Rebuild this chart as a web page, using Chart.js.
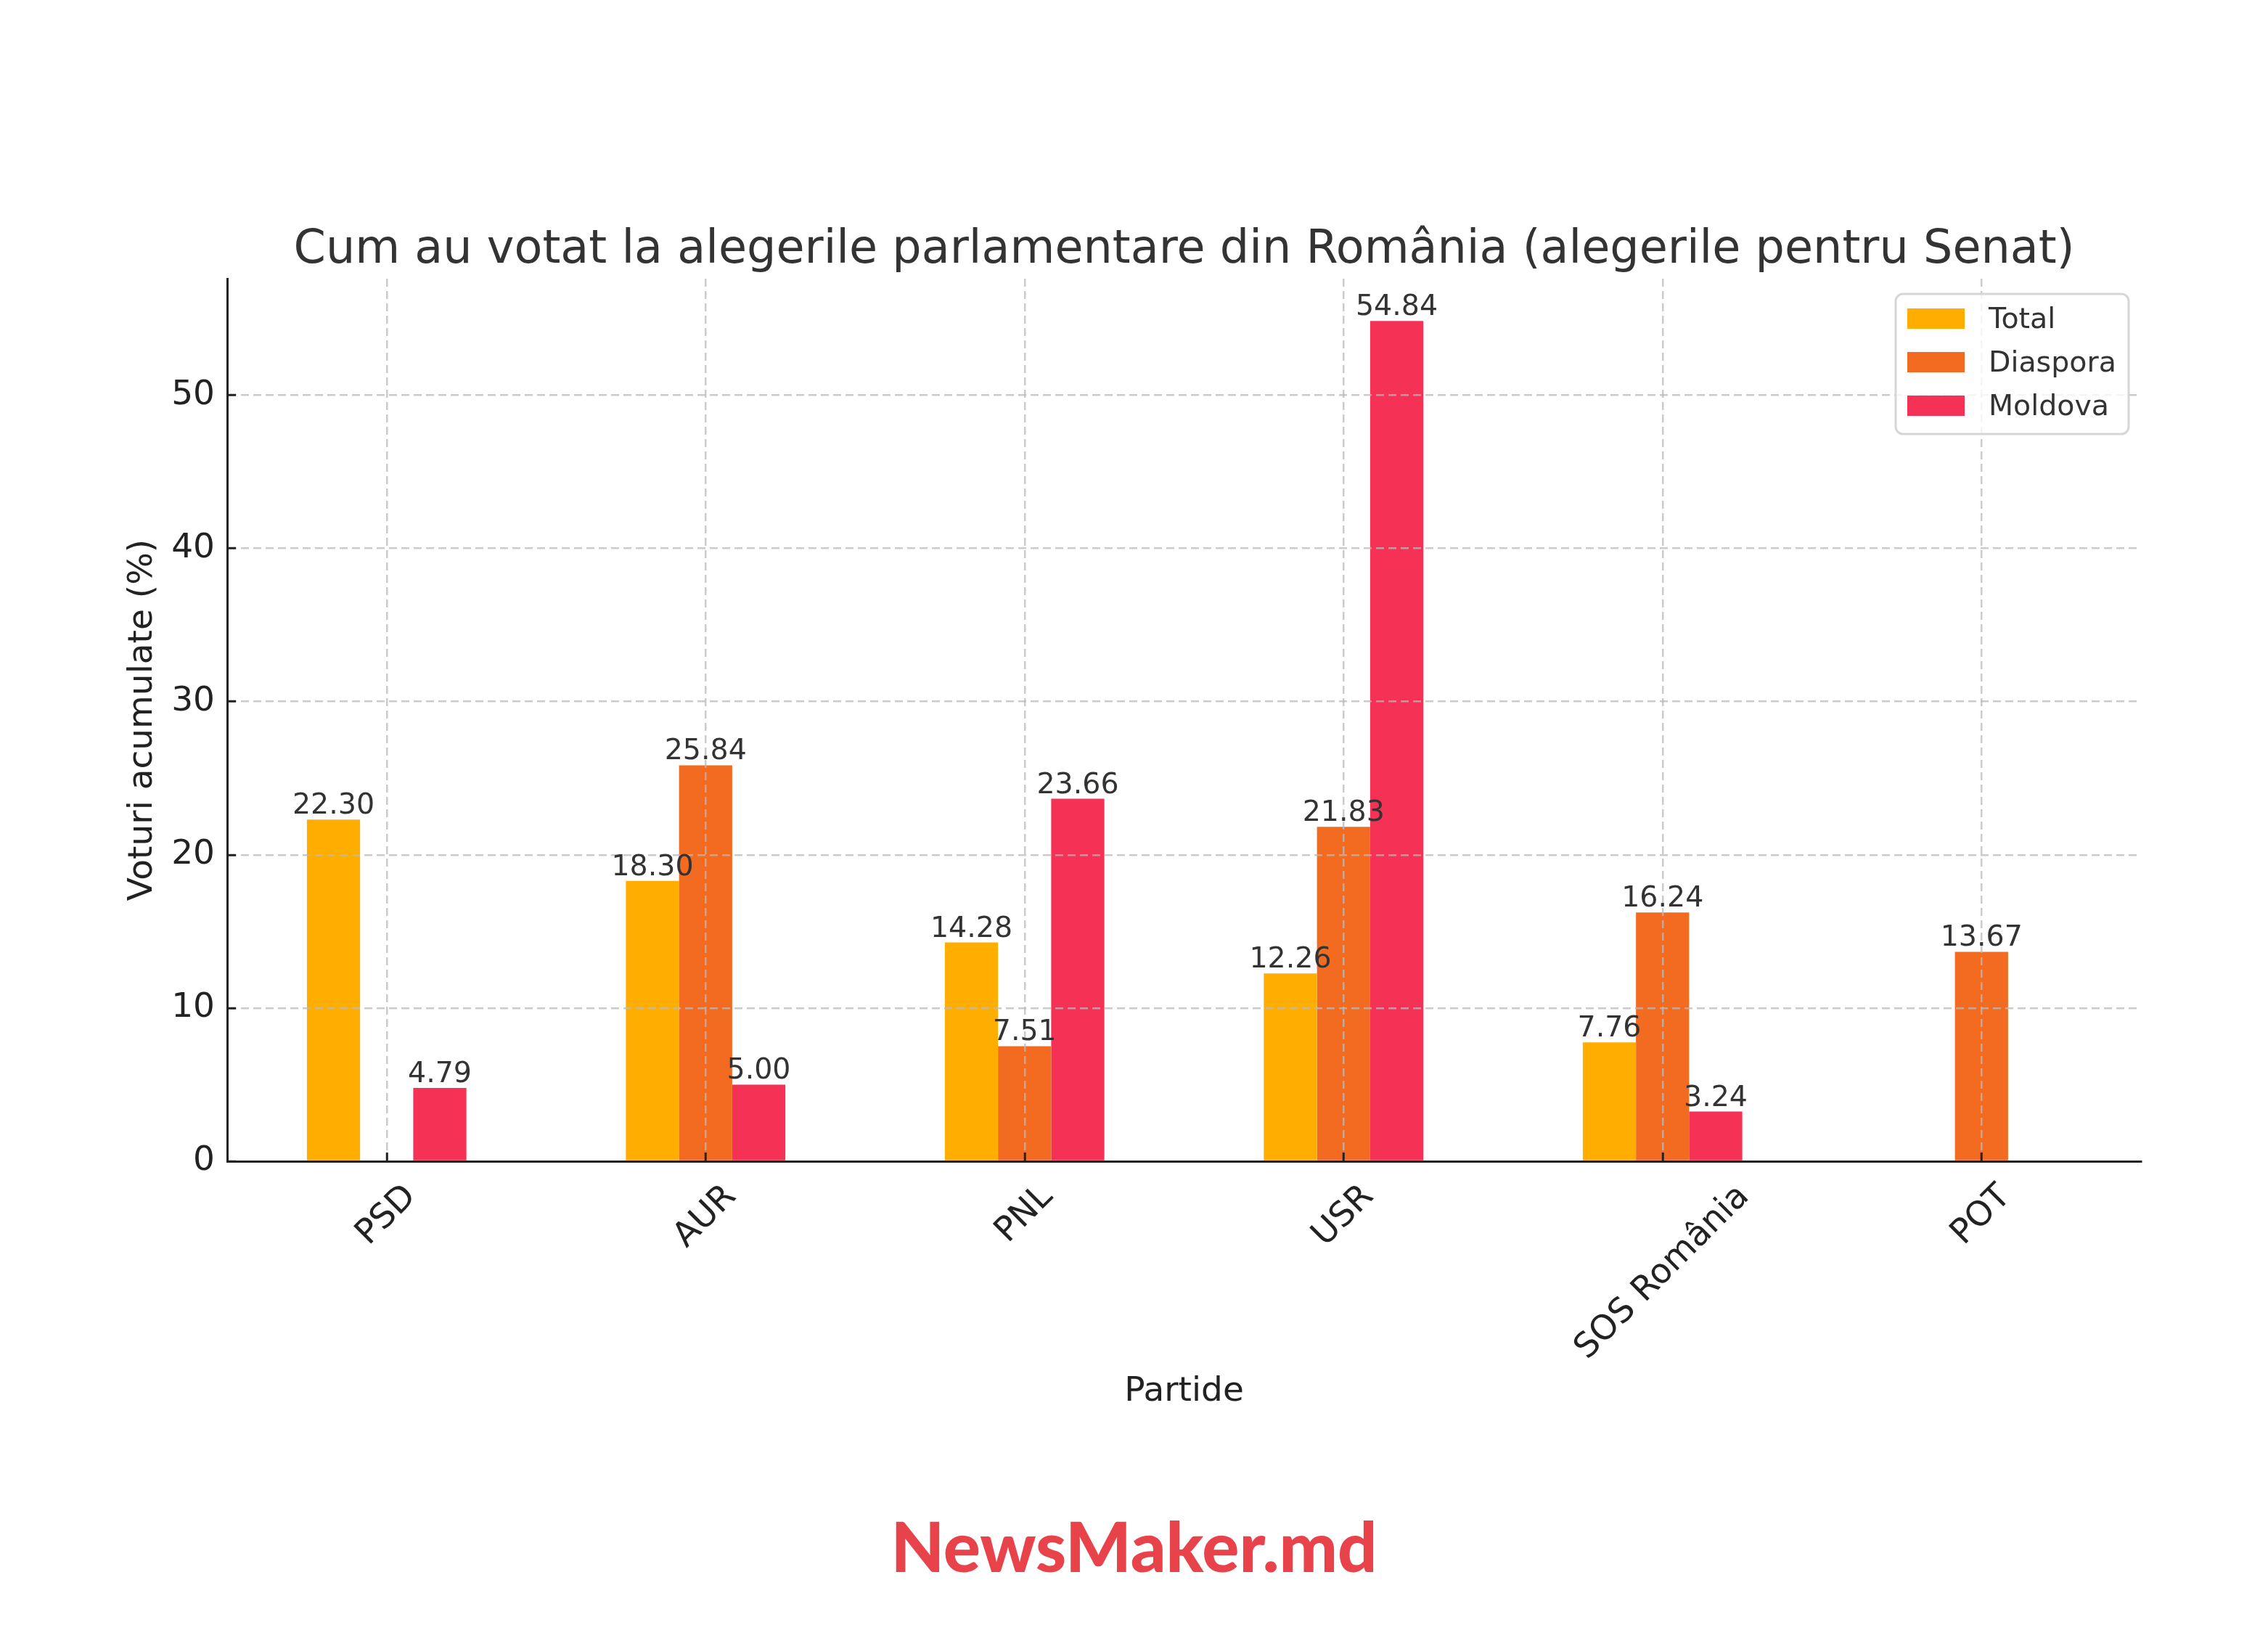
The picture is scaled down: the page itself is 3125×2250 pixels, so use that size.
<!DOCTYPE html>
<html lang="ro">
<head>
  <meta charset="UTF-8" />
  <title>Cum au votat la alegerile parlamentare din România</title>
  <script src="https://cdn.jsdelivr.net/npm/chart.js"></script>
  <style>
    html, body {
      margin: 0;
      padding: 0;
      background: #fff;
    }
  </style>
</head>
<body>
  <canvas id="voteChart" width="3125" height="2250"></canvas>

  <script>
    // date
    const partide = ['PSD', 'AUR', 'PNL', 'USR', 'SOS România', 'POT'];
    const total = [22.30, 18.30, 14.28, 12.26, 7.76, null];
    const diaspora = [null, 25.84, 7.51, 21.83, 16.24, 13.67];
    const moldova = [4.79, 5.00, 23.66, 54.84, 3.24, null];
    const yTicks = [0, 10, 20, 30, 40, 50];

    const chartTitle = 'Cum au votat la alegerile parlamentare din România (alegerile pentru Senat)';
    const FONT = 'DejaVu Sans';

    // titlul centrat deasupra zonei graficului
    const titlePlugin = {
      id: 'plotTitle',
      afterDraw(chart) {
        const { ctx, chartArea } = chart;
        ctx.save();
        ctx.font = `63.6px "${FONT}"`;
        ctx.fillStyle = '#333';
        ctx.textAlign = 'center';
        ctx.textBaseline = 'alphabetic';
        ctx.fillText(chartTitle, (chartArea.left + chartArea.right) / 2, chartArea.top - 22);
        ctx.restore();
      }
    };

    // etichetele de pe axa X, rotite la 45° si centrate pe diviziune
    const xLabels = {
      id: 'xLabels',
      afterDraw(chart) {
        const { ctx, chartArea } = chart;
        const xs = chart.scales.x;
        ctx.save();
        ctx.font = `47px "${FONT}"`;
        ctx.fillStyle = '#222';
        ctx.textAlign = 'center';
        ctx.textBaseline = 'middle';
        chart.data.labels.forEach((lab, i) => {
          const w = ctx.measureText(lab).width;
          const side = (w + 55) * Math.SQRT1_2;
          ctx.save();
          ctx.translate(xs.getPixelForTick(i), chartArea.bottom + 22 + side / 2);
          ctx.rotate(-Math.PI / 4);
          ctx.fillText(lab, 0, 0);
          ctx.restore();
        });
        ctx.restore();
      }
    };

    // valorile deasupra barelor
    const valueLabels = {
      id: 'valueLabels',
      afterDraw(chart) {
        const { ctx } = chart;
        ctx.save();
        ctx.font = `39.5px "${FONT}"`;
        ctx.fillStyle = '#333';
        ctx.textAlign = 'center';
        ctx.textBaseline = 'alphabetic';
        chart.data.datasets.forEach((ds, di) => {
          chart.getDatasetMeta(di).data.forEach((bar, i) => {
            const v = ds.data[i];
            if (v === null || v === undefined) return;
            ctx.fillText(v.toFixed(2), bar.x, bar.y - 8);
          });
        });
        ctx.restore();
      }
    };

    // legenda in coltul din dreapta sus, in interiorul graficului
    const legendBox = {
      id: 'legendBox',
      afterDraw(chart) {
        const { ctx, chartArea } = chart;
        const w = 321, h = 193;
        const x0 = chartArea.right - 17 - w;
        const y0 = chartArea.top + 21;
        ctx.save();
        ctx.beginPath();
        ctx.roundRect(x0, y0, w, h, 10);
        ctx.fillStyle = 'rgba(255,255,255,0.8)';
        ctx.fill();
        ctx.lineWidth = 3;
        ctx.strokeStyle = '#d6d6d6';
        ctx.stroke();
        ctx.font = `39.5px "${FONT}"`;
        ctx.textBaseline = 'middle';
        chart.data.datasets.forEach((ds, i) => {
          const cy = y0 + 34 + i * 60;
          ctx.fillStyle = ds.backgroundColor;
          ctx.fillRect(x0 + 16, cy - 14, 79, 28);
          ctx.fillStyle = '#333';
          ctx.fillText(ds.label, x0 + 128, cy + 3);
        });
        ctx.restore();
      }
    };

    // sigla NewsMaker
    const watermark = {
      id: 'watermark',
      afterDraw(chart) {
        const { ctx } = chart;
        ctx.save();
        ctx.font = '900 95.5px Lato';
        ctx.fillStyle = '#E8434B';
        ctx.textAlign = 'center';
        ctx.textBaseline = 'alphabetic';
        ctx.fillText('NewsMaker.md', chart.width / 2, 2166);
        ctx.restore();
      }
    };

    const gridOpts = {
      display: true,
      color: 'rgba(185,185,185,0.75)',
      lineWidth: 2.5,
      tickLength: -12,
      tickWidth: 3,
      tickColor: '#222',
      tickBorderDash: [],
      z: 1
    };
    const borderOpts = { display: true, color: '#222', width: 3, dash: [11, 6], z: 2 };

    new Chart(document.getElementById('voteChart'), {
      type: 'bar',
      data: {
        labels: partide,
        datasets: [
          { label: 'Total', data: total, backgroundColor: '#FFAE00' },
          { label: 'Diaspora', data: diaspora, backgroundColor: '#F26B21' },
          { label: 'Moldova', data: moldova, backgroundColor: '#F53255' }
        ]
      },
      options: {
        responsive: false,
        animation: false,
        events: [],
        layout: { padding: { left: 169, right: 175, top: 384, bottom: 304 } },
        datasets: { bar: { categoryPercentage: 0.5, barPercentage: 1.0 } },
        plugins: {
          legend: { display: false },
          title: { display: false },
          tooltip: { enabled: false }
        },
        scales: {
          x: {
            offset: true,
            afterFit: s => { s.height = 346; },
            grid: Object.assign({}, gridOpts, { offset: false }),
            border: borderOpts,
            ticks: { display: false },
            title: {
              display: true,
              text: 'Partide',
              color: '#222',
              padding: 0,
              font: { family: FONT, size: 47 }
            }
          },
          y: {
            min: 0,
            max: 57.6,
            afterFit: s => { s.width = 144; },
            afterBuildTicks: s => { s.ticks = yTicks.map(v => ({ value: v })); },
            grid: gridOpts,
            border: borderOpts,
            ticks: {
              color: '#222',
              padding: 29,
              font: { family: FONT, size: 47 }
            },
            title: {
              display: true,
              text: 'Voturi acumulate (%)',
              color: '#222',
              padding: 0,
              font: { family: FONT, size: 47 }
            }
          }
        }
      },
      plugins: [titlePlugin, valueLabels, legendBox, xLabels, watermark]
    });
  </script>
</body>
</html>
